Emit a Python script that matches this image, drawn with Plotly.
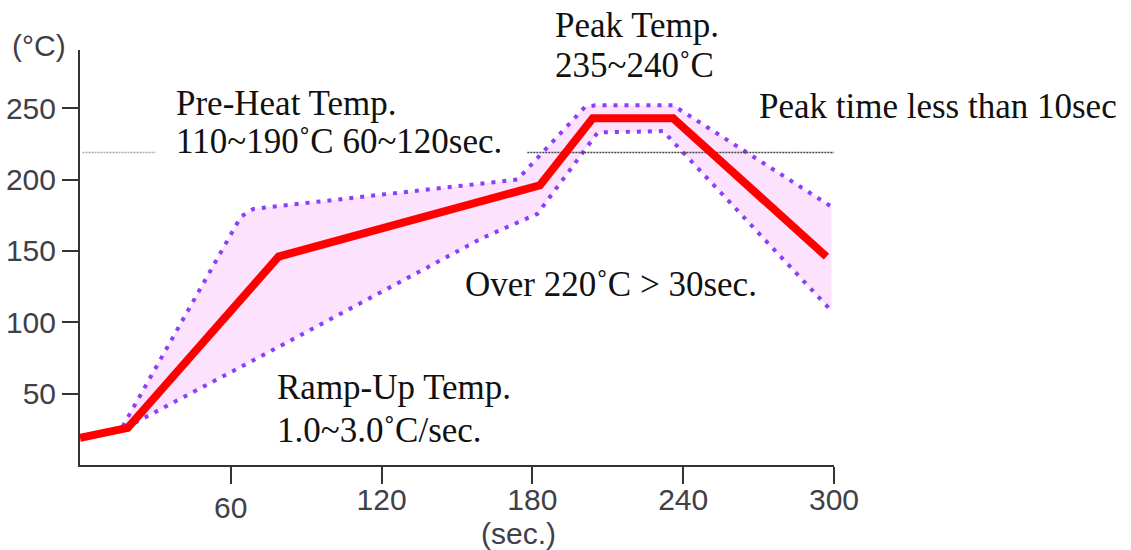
import plotly.graph_objects as go

# ---- data ----
profile_time = [0, 19, 79, 183, 204, 236, 297]
profile_temp = [19, 26, 146, 196, 243, 243, 146]

upper_time = [17, 64, 69, 174, 201, 205, 236, 299]
upper_temp = [27, 174, 179.5, 200, 251, 252, 252, 181]

lower_time = [18, 75, 160, 182, 206, 232, 299]
lower_temp = [26, 79, 159, 176, 233, 234, 108]

ref_temp = 219
ref_left_time = [1, 30]
ref_right_time = [178, 300]

x_ticks = [60, 120, 180, 240, 300]
y_ticks = [50, 100, 150, 200, 250]

# annotations in data coordinates: (text, time, temp) -- left anchored
notes = [
    ("235~240˚C", 188, 280),
    ("Pre-Heat Temp.", 37.5, 253),
    ("110~190˚C 60~120sec.", 37.5, 227),
    ("Peak time less than 10sec", 269.5, 251),
    ("Over 220˚C > 30sec.", 152.5, 126.5),
    ("Ramp-Up Temp.", 77.5, 54.5),
    ("1.0~3.0˚C/sec.", 77.5, 24),
]

PURPLE = "#8A3FFC"
FILL = "#FCE2FC"
AX = "#333333"
TICKFONT = dict(family="Liberation Sans, Arial, sans-serif", size=30, color="#404048")
SERIF = dict(family="Liberation Serif, Times New Roman, serif", size=35, color="#111111")

fig = go.Figure()

fig.add_trace(go.Scatter(x=lower_time, y=lower_temp, mode="lines",
                         line=dict(color=PURPLE, width=4, dash="4px,7px"),
                         hoverinfo="skip", showlegend=False))
fig.add_trace(go.Scatter(x=upper_time, y=upper_temp, mode="lines",
                         line=dict(color=PURPLE, width=4, dash="4px,7px"),
                         fill="tonexty", fillcolor=FILL,
                         hoverinfo="skip", showlegend=False))

fig.add_trace(go.Scatter(x=ref_left_time, y=[ref_temp] * 2, mode="lines",
                         line=dict(color="#aaaaaa", width=1.5, dash="2px,1px"),
                         hoverinfo="skip", showlegend=False))
fig.add_trace(go.Scatter(x=ref_right_time, y=[ref_temp] * 2, mode="lines",
                         line=dict(color="#444444", width=1.5, dash="2px,1px"),
                         hoverinfo="skip", showlegend=False))

fig.add_trace(go.Scatter(x=profile_time, y=profile_temp, mode="lines",
                         line=dict(color="#ff0000", width=8),
                         hoverinfo="skip", showlegend=False))

# helper trace for the offset "60" tick label axis
fig.add_trace(go.Scatter(x=[0, 300], y=[None, None], xaxis="x2", mode="lines",
                         hoverinfo="skip", showlegend=False))

for text, t, temp in notes:
    fig.add_annotation(x=t, y=temp, xref="x", yref="y", text=text, showarrow=False,
                       xanchor="left", yanchor="middle", font=SERIF)

# title above the plot area (paper coordinates)
fig.add_annotation(x=(553 - 80) / 754, y=(465 - 26) / 415, xref="paper", yref="paper",
                   text="Peak Temp.", showarrow=False, xanchor="left", yanchor="middle",
                   font=SERIF)

fig.add_annotation(x=-0.054, y=1.01, xref="paper", yref="paper", text="(°C)",
                   showarrow=False, xanchor="center", yanchor="middle", font=TICKFONT)
fig.add_annotation(x=(518 - 80) / 754, y=-0.165, xref="paper", yref="paper", text="(sec.)",
                   showarrow=False, xanchor="center", yanchor="middle", font=TICKFONT)

fig.update_layout(
    width=1131, height=550,
    margin=dict(l=80, r=297, t=50, b=85, autoexpand=False),
    paper_bgcolor="white", plot_bgcolor="white",
    xaxis=dict(range=[0, 300], tickvals=x_ticks,
               ticktext=["" if v == 60 else str(v) for v in x_ticks],
               ticks="outside", ticklen=17, tickwidth=2, tickcolor=AX,
               ticklabelstandoff=-10, automargin=False,
               showline=True, linecolor=AX, linewidth=2,
               showgrid=False, zeroline=False, tickfont=TICKFONT),
    xaxis2=dict(range=[0, 300], overlaying="x", anchor="y", side="bottom",
                tickvals=[60], ticktext=["60"], ticks="outside", ticklen=17,
                tickcolor="rgba(0,0,0,0)", ticklabelstandoff=-1, automargin=False,
                showline=False, showgrid=False, zeroline=False, tickfont=TICKFONT),
    yaxis=dict(range=[0, 290.8], tickvals=y_ticks,
               ticks="outside", ticklen=16, tickwidth=2, tickcolor=AX,
               automargin=False,
               showline=True, linecolor=AX, linewidth=2,
               showgrid=False, zeroline=False, tickfont=TICKFONT),
)

fig.write_html("out.html", config={"displayModeBar": False},
               post_script="document.body.style.margin='0';document.body.style.overflow='hidden';")
